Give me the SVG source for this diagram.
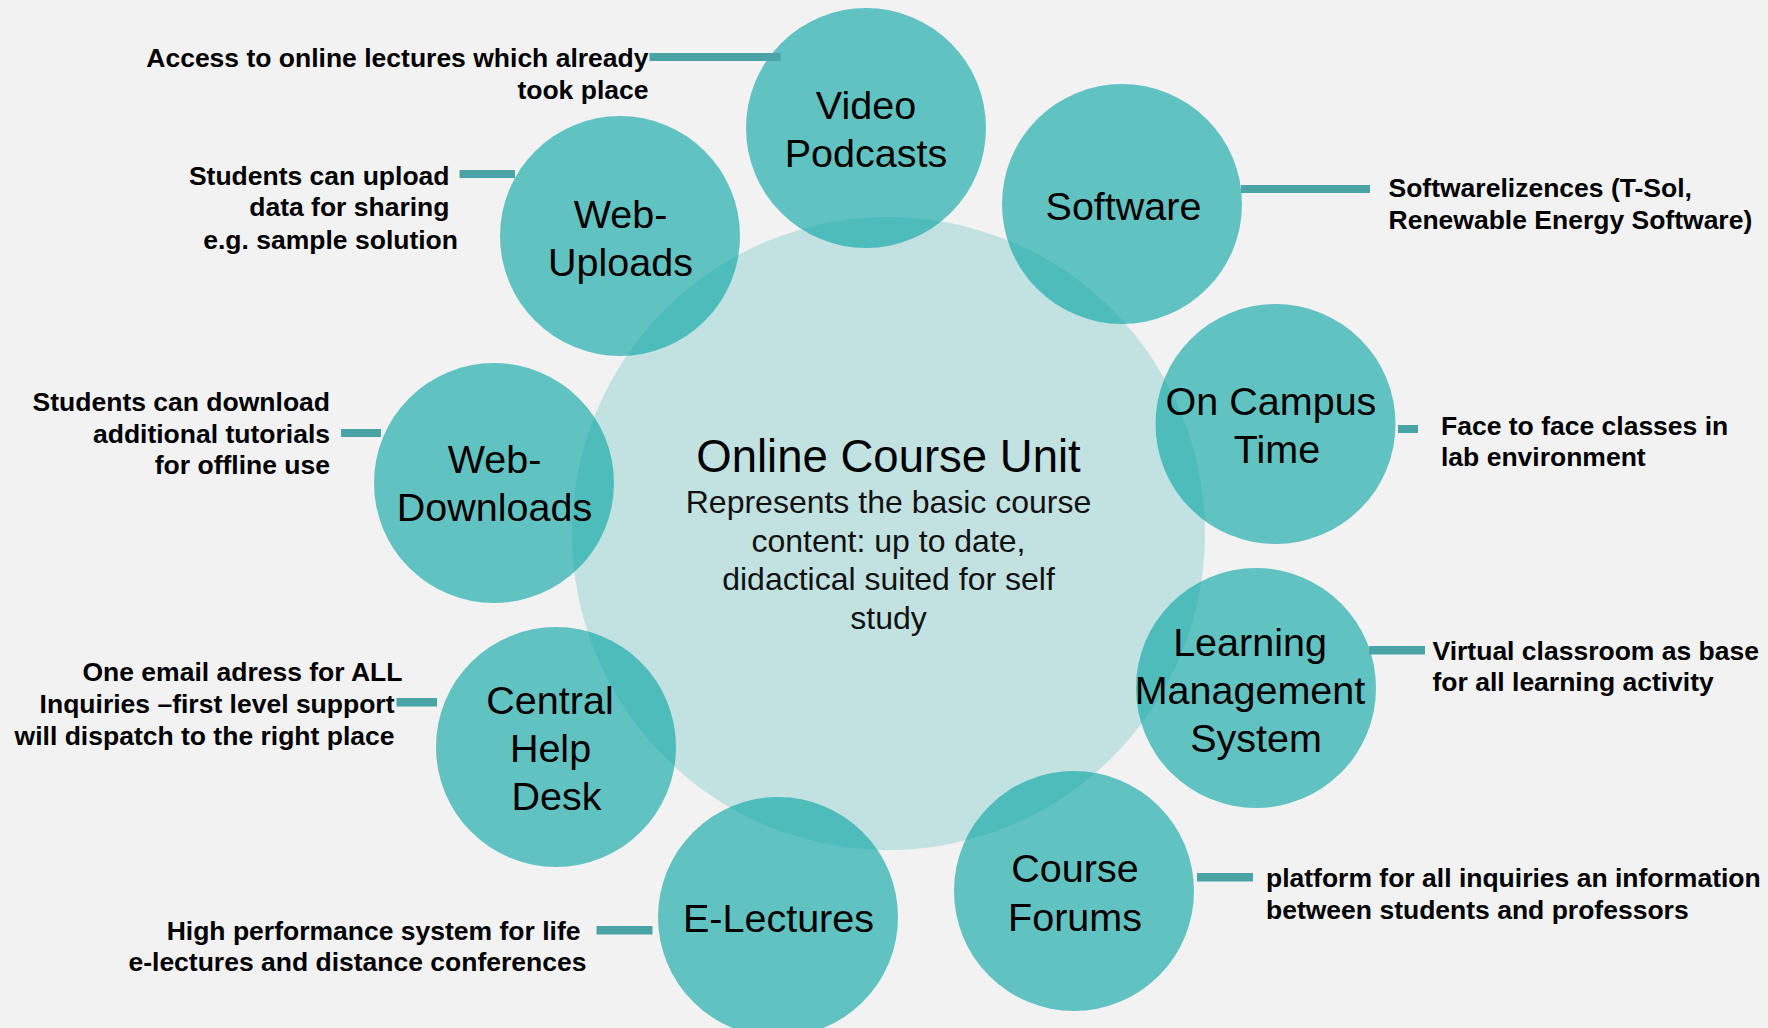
<svg xmlns="http://www.w3.org/2000/svg" width="1768" height="1028" viewBox="0 0 1768 1028">
<style>
.bg{fill:#f2f2f2}
.core{fill:#00a3a0;fill-opacity:0.2}
.node{fill:#00a3a0;fill-opacity:0.6}
.bar{fill:#4aa4a6}
.lbl{font-family:"Liberation Sans",Arial,sans-serif;font-size:39.5px;fill:#000;text-anchor:middle}
.title{font-family:"Liberation Sans",Arial,sans-serif;font-size:45.5px;fill:#000;text-anchor:middle}
.sub{font-family:"Liberation Sans",Arial,sans-serif;font-size:32px;fill:#111;text-anchor:middle}
.ann{font-family:"Liberation Sans",Arial,sans-serif;font-size:26.5px;font-weight:bold;fill:#000}
.r{text-anchor:end}
.l{text-anchor:start}
</style>
<rect class="bg" x="0" y="0" width="1768" height="1028"/>
<g id="core">
<circle class="core" cx="888.5" cy="533.5" r="316.5"/>
<text class="title" x="888.5" y="472">Online Course Unit</text>
<text class="sub" x="888.5" y="513">Represents the basic course</text>
<text class="sub" x="888.5" y="551.5">content: up to date,</text>
<text class="sub" x="888.5" y="590">didactical suited for self</text>
<text class="sub" x="888.5" y="628.5">study</text>
</g>
<g id="video-podcasts">
<circle class="node" cx="866" cy="128" r="120"/>
<text class="lbl" x="866" y="119">Video</text>
<text class="lbl" x="866" y="166.5">Podcasts</text>
</g>
<g id="software">
<circle class="node" cx="1122" cy="204" r="120"/>
<text class="lbl" x="1123.5" y="220">Software</text>
</g>
<g id="on-campus-time">
<circle class="node" cx="1275.5" cy="424" r="120"/>
<text class="lbl" x="1271" y="415">On Campus</text>
<text class="lbl" x="1277" y="463">Time</text>
</g>
<g id="lms">
<circle class="node" cx="1256" cy="688" r="120"/>
<text class="lbl" x="1250" y="656">Learning</text>
<text class="lbl" x="1250" y="704">Management</text>
<text class="lbl" x="1256" y="752">System</text>
</g>
<g id="course-forums">
<circle class="node" cx="1074" cy="891" r="120"/>
<text class="lbl" x="1075" y="882">Course</text>
<text class="lbl" x="1075" y="930.5">Forums</text>
</g>
<g id="e-lectures">
<circle class="node" cx="778" cy="917" r="120"/>
<text class="lbl" x="778.5" y="932">E-Lectures</text>
</g>
<g id="central-help-desk">
<circle class="node" cx="556" cy="747" r="120"/>
<text class="lbl" x="550" y="714">Central</text>
<text class="lbl" x="550.5" y="762">Help</text>
<text class="lbl" x="556.5" y="810">Desk</text>
</g>
<g id="web-downloads">
<circle class="node" cx="494" cy="483" r="120"/>
<text class="lbl" x="494.5" y="473">Web-</text>
<text class="lbl" x="494.5" y="521">Downloads</text>
</g>
<g id="web-uploads">
<circle class="node" cx="620" cy="236" r="120"/>
<text class="lbl" x="620.5" y="228">Web-</text>
<text class="lbl" x="620.5" y="275.5">Uploads</text>
</g>
<g id="connectors">
<rect class="bar" x="649.5" y="53" width="131" height="8"/>
<rect class="bar" x="459.5" y="170" width="55.5" height="8"/>
<rect class="bar" x="341" y="429" width="40" height="8"/>
<rect class="bar" x="396.5" y="698" width="40.5" height="8.5"/>
<rect class="bar" x="596.5" y="926" width="56" height="8.5"/>
<rect class="bar" x="1241" y="185" width="129" height="8"/>
<rect class="bar" x="1398" y="425" width="20" height="8"/>
<rect class="bar" x="1369" y="646" width="56" height="8.5"/>
<rect class="bar" x="1197" y="873" width="56" height="8.5"/>
</g>
<g id="annotations">
<text class="ann r" x="648.5" y="66.5">Access to online lectures which already</text>
<text class="ann r" x="648.5" y="99">took place</text>
<text class="ann r" x="449.5" y="184.5">Students can upload</text>
<text class="ann r" x="449.5" y="216">data for sharing</text>
<text class="ann r" x="458" y="248.5">e.g. sample solution</text>
<text class="ann r" x="330" y="410.5">Students can download</text>
<text class="ann r" x="330" y="442.5">additional tutorials</text>
<text class="ann r" x="330" y="474">for offline use</text>
<text class="ann r" x="402.5" y="680.5">One email adress for ALL</text>
<text class="ann r" x="394.5" y="713">Inquiries –first level support</text>
<text class="ann r" x="394.5" y="744.5">will dispatch to the right place</text>
<text class="ann r" x="580.5" y="939.5">High performance system for life</text>
<text class="ann r" x="586.5" y="970.5">e-lectures and distance conferences</text>
<text class="ann l" x="1388.5" y="196.5">Softwarelizences (T-Sol,</text>
<text class="ann l" x="1388.5" y="229">Renewable Energy Software)</text>
<text class="ann l" x="1441" y="434.5">Face to face classes in</text>
<text class="ann l" x="1441" y="466">lab environment</text>
<text class="ann l" x="1432.5" y="659.5">Virtual classroom as base</text>
<text class="ann l" x="1432.5" y="691">for all learning activity</text>
<text class="ann l" x="1266" y="887">platform for all inquiries an information</text>
<text class="ann l" x="1266" y="919">between students and professors</text>
</g>
</svg>
